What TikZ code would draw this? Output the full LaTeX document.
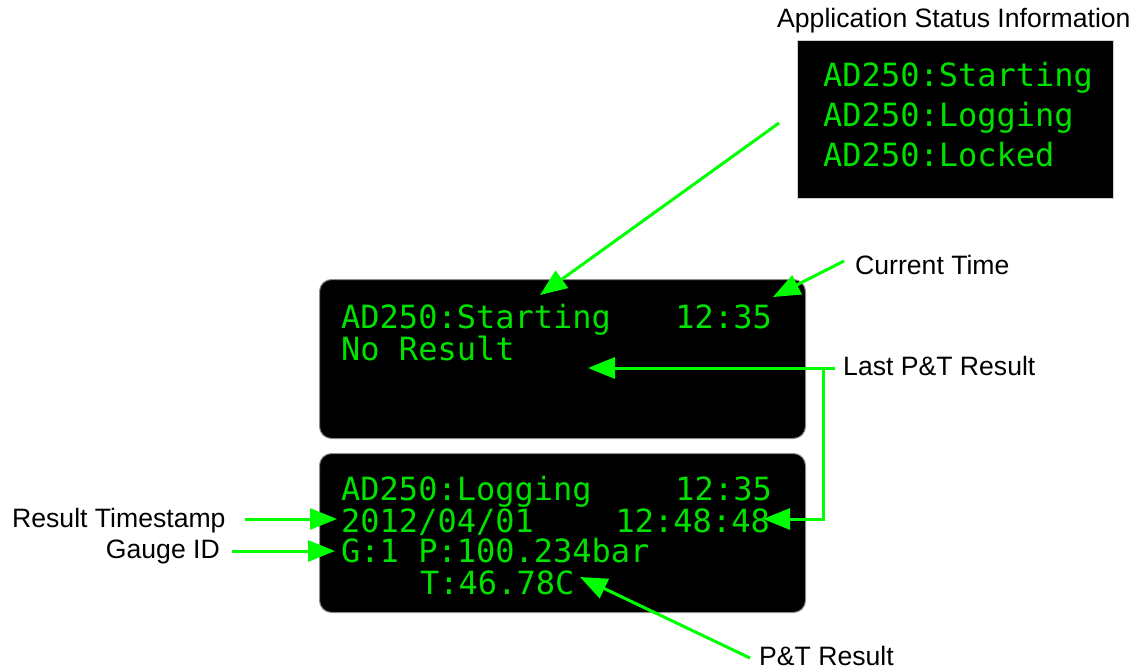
\documentclass[tikz,border=0pt]{standalone}
\usepackage{fontspec}
\setmainfont{Liberation Sans}
\newfontfamily\lcdfont{DejaVu Sans Mono}
\usetikzlibrary{arrows.meta}
\definecolor{arrgreen}{RGB}{0,255,0}
\definecolor{lcdgreen}{RGB}{0,225,0}
\definecolor{bordergray}{RGB}{140,140,140}
\begin{document}
\begin{tikzpicture}[x=1pt,y=-1pt,
  lbl/.style={inner sep=0pt, font=\fontsize{26.6}{30}\selectfont, text=black},
  lcd/.style={inner sep=0pt, font=\lcdfont\fontsize{32}{36}\selectfont, text=lcdgreen},
  display/.style={fill=black, draw=bordergray, line width=1pt, rounded corners=12pt, minimum width=486pt, minimum height=159pt, anchor=north west, inner sep=0pt},
  statusbox/.style={fill=black, draw=bordergray!40, line width=1pt, minimum width=316pt, minimum height=158pt, anchor=north west, inner sep=0pt},
  arr/.style={draw=arrgreen, line width=3pt, -{Triangle[length=27pt,width=21pt]}}
]
\useasboundingbox (0,0) rectangle (1140,671);

% status information box
\node[lbl, anchor=base west] (apptitle) at (777,28) {Application Status Information};
\node[statusbox] (status) at (797,40) {};
\node[lcd, anchor=base west] (s1) at (823,87) {AD250:Starting};
\node[lcd, anchor=base west] (s2) at (823,127) {AD250:Logging};
\node[lcd, anchor=base west] (s3) at (823,167) {AD250:Locked};

% display 1
\node[display] (d1) at (319,279) {};
\node[lcd, anchor=base west] (d1l1) at (341,328) {AD250:Starting};
\node[lcd, anchor=base east] (d1t) at (772,328) {12:35};
\node[lcd, anchor=base west] (d1l2) at (341,360) {No Result};

% display 2
\node[display] (d2) at (319,453) {};
\node[lcd, anchor=base west] (d2l1) at (341,500) {AD250:Logging};
\node[lcd, anchor=base east] (d2t) at (772,500) {12:35};
\node[lcd, anchor=base west] (d2l2) at (341,532) {2012/04/01};
\node[lcd, anchor=base east] (d2l2b) at (770,532) {12:48:48};
\node[lcd, anchor=base west] (d2l3) at (341,562) {G:1 P:100.234bar};
\node[lcd, anchor=base west] (d2l4) at (420,594) {T:46.78C};

% labels
\node[lbl, anchor=base west] (curtime) at (855,274) {Current Time};
\node[lbl, anchor=base west] (lastpt) at (843,375) {Last P\&T Result};
\node[lbl, anchor=base west] (rts) at (12,527) {Result Timestamp};
\node[lbl, anchor=base east] (gid) at (220,558) {Gauge ID};
\node[lbl, anchor=base west] (ptres) at (759,665) {P\&T Result};

% arrow end points
\coordinate (appstart) at (779,123);
\coordinate (tipStarting) at (540,295);
\coordinate (ctstart) at (844,261);
\coordinate (tipTime) at (773,297);
\coordinate (lpstart) at (835,368);
\coordinate (junction) at (823,368);
\coordinate (tipNoRes) at (588,368);
\coordinate (tipTS) at (763,519);
\coordinate (rtsstart) at (245,519);
\coordinate (tipDate) at (337,519);
\coordinate (gidstart) at (232,551);
\coordinate (tipGauge) at (335,551);
\coordinate (ptstart) at (750,658);
\coordinate (tipPT) at (580,577);

% arrows
\draw[arr] (appstart) -- (tipStarting);
\draw[arr] (ctstart) -- (tipTime);
\draw[arr] (lpstart) -- (tipNoRes);
\draw[arr] (junction) |- (tipTS);
\draw[arr] (rtsstart) -- (tipDate);
\draw[arr] (gidstart) -- (tipGauge);
\draw[arr] (ptstart) -- (tipPT);
\end{tikzpicture}
\end{document}
